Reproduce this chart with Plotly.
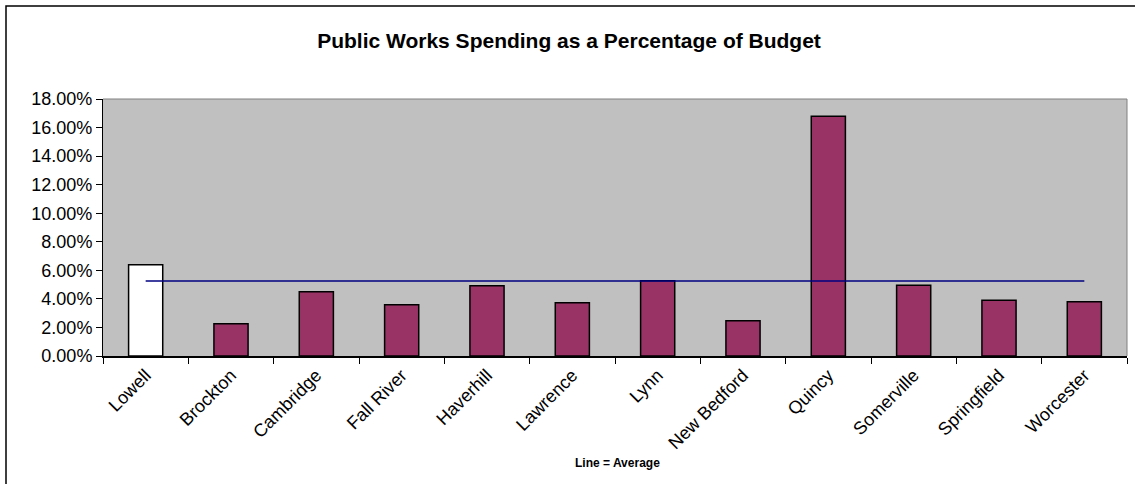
import plotly.graph_objects as go

cities = ["Lowell", "Brockton", "Cambridge", "Fall River", "Haverhill", "Lawrence",
          "Lynn", "New Bedford", "Quincy", "Somerville", "Springfield", "Worcester"]
spending_pct = [0.0639, 0.0226, 0.0450, 0.0359, 0.0492, 0.0373,
                0.0527, 0.0247, 0.1680, 0.0495, 0.0390, 0.0380]
average_pct = [0.0525] * len(cities)
bar_colors = ["#FFFFFF"] + ["#993366"] * (len(cities) - 1)
y_ticks = [0, 0.02, 0.04, 0.06, 0.08, 0.10, 0.12, 0.14, 0.16, 0.18]

FONT = "Liberation Sans, Arial, sans-serif"

fig = go.Figure()
fig.add_trace(go.Bar(
    x=cities, y=spending_pct,
    marker=dict(color=bar_colors, line=dict(color="#000000", width=1.5)),
    width=0.4, showlegend=False, hoverinfo="x+y",
))
fig.add_trace(go.Scatter(
    x=cities, y=average_pct, mode="lines",
    line=dict(color="#000080", width=1.5), showlegend=False,
))

L, R, T, B = 103, 8, 99, 128
W, H = 1135, 484
pw, ph = W - L - R, H - T - B

fig.update_layout(
    width=W, height=H,
    margin=dict(l=L, r=R, t=T, b=B),
    paper_bgcolor="#FFFFFF",
    plot_bgcolor="#C0C0C0",
    font=dict(family=FONT, size=18, color="#000000"),
    title=dict(text="<b>Public Works Spending as a Percentage of Budget</b>",
               x=(569 - L) / pw, xref="paper", xanchor="center",
               y=1 - 41 / H, yref="container", yanchor="middle",
               font=dict(family=FONT, size=21, color="#000000")),
    xaxis=dict(
        type="category", showgrid=False, tickangle=-45,
        ticks="outside", ticklen=6, tickcolor="#000000", tickson="boundaries",
        showline=True, linecolor="#000000", linewidth=1.5,
        mirror=False, tickfont=dict(family=FONT, size=18),
        range=[-0.5, len(cities) - 0.5],
    ),
    yaxis=dict(
        range=[0, 0.18], tickvals=y_ticks, tickformat=".2%",
        showgrid=False, zeroline=False,
        ticks="outside", ticklen=6, tickcolor="#000000",
        showline=True, linecolor="#000000", linewidth=1,
        tickfont=dict(family=FONT, size=18),
    ),
    shapes=[
        dict(type="line", xref="paper", yref="paper", x0=0, x1=1, y0=1, y1=1,
             line=dict(color="#808080", width=1)),
        dict(type="line", xref="paper", yref="paper", x0=1, x1=1, y0=0, y1=1,
             line=dict(color="#808080", width=1)),
        dict(type="rect", xref="paper", yref="paper",
             x0=(6 - L) / pw, x1=(W + 5 - L) / pw,
             y0=-(B + 5) / ph, y1=1 + (T - 6) / ph,
             line=dict(color="#000000", width=1.5), layer="below"),
    ],
    annotations=[
        dict(text="<b>Line = Average</b>", xref="paper", yref="paper",
             x=(617 - L) / pw, y=-(463 - (H - B)) / ph,
             xanchor="center", yanchor="middle", showarrow=False,
             font=dict(family=FONT, size=12, color="#000000")),
    ],
)

fig.write_html("out.html")
